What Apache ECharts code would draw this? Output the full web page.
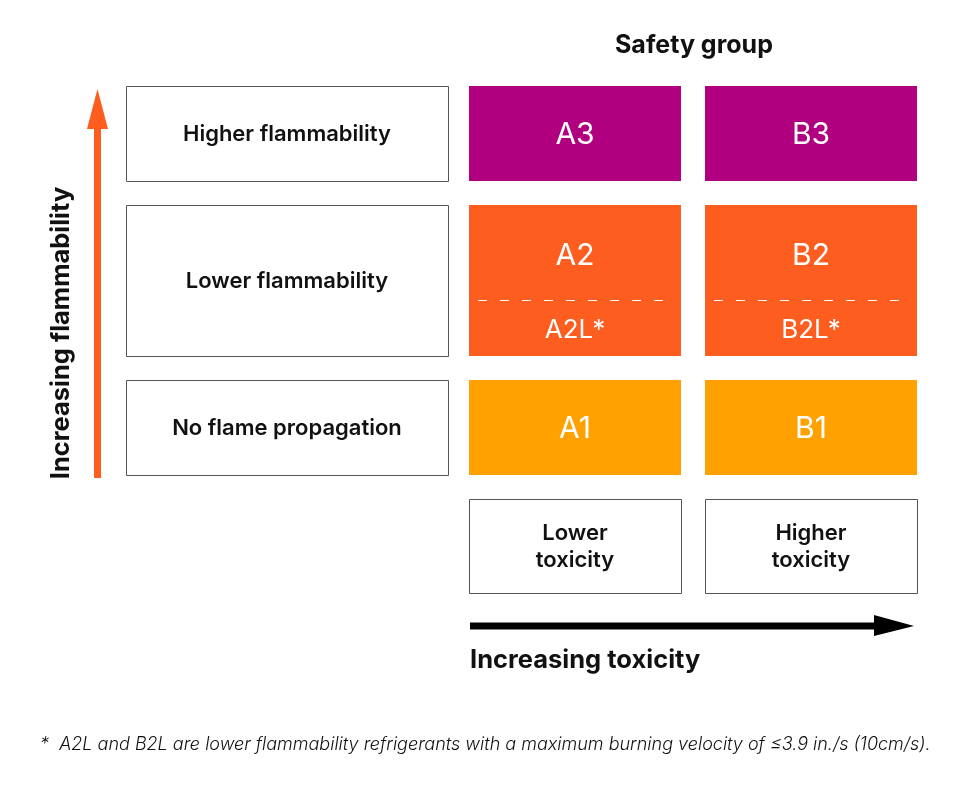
<!DOCTYPE html>
<html>
<head>
<meta charset="utf-8">
<script src="https://cdn.jsdelivr.net/npm/echarts@6/dist/echarts.min.js"></script>
<style>
  html, body { margin: 0; padding: 0; background: #fff; }
  #chart { width: 956px; height: 787px; }
</style>
</head>
<body>
<div id="chart"></div>
<script>
// data
const flammabilityClasses = ['Higher flammability', 'Lower flammability', 'No flame propagation'];
const toxicityClasses = ['Lower\ntoxicity', 'Higher\ntoxicity'];
const safetyGroups = [['A3', 'B3'], ['A2', 'B2'], ['A1', 'B1']];
const subGroups = [null, ['A2L*', 'B2L*'], null];
const groupColors = ['#B0007F', '#FD5D1F', '#FFA100'];
const titleText = 'Safety group';
const yAxisTitle = 'Increasing flammability';
const xAxisTitle = 'Increasing toxicity';
const footnote = '*  A2L and B2L are lower flammability refrigerants with a maximum burning velocity of \u22643.9 in./s (10cm/s).';

const FONT = 'Inter, "Noto Sans", sans-serif';

// layout of the table (axis units)
const colWidths = [322, 212, 212];
const colGaps = [21, 24];
const rowHeights = [95, 151, 95, 94];
const rowGap = 24;
const colStart = [0];
for (let i = 1; i < colWidths.length; i++) colStart.push(colStart[i - 1] + colWidths[i - 1] + colGaps[i - 1]);
const rowStart = [0];
for (let i = 1; i < rowHeights.length; i++) rowStart.push(rowStart[i - 1] + rowHeights[i - 1] + rowGap);
const totalW = colStart[colStart.length - 1] + colWidths[colWidths.length - 1];
const totalH = rowStart[rowStart.length - 1] + rowHeights[rowHeights.length - 1];

// cells: [col, row, kind]
const cells = [];
flammabilityClasses.forEach((name, r) => cells.push({ col: 0, row: r, kind: 'label', text: name }));
safetyGroups.forEach((pair, r) => pair.forEach((g, c) => cells.push({
    col: c + 1, row: r, kind: 'group', text: g, sub: subGroups[r] ? subGroups[r][c] : null, color: groupColors[r]
})));
toxicityClasses.forEach((name, c) => cells.push({ col: c + 1, row: 3, kind: 'label', text: name, small: true }));

function renderCell(params, api) {
    const cell = cells[params.dataIndex];
    const x0 = colStart[cell.col], x1 = x0 + colWidths[cell.col];
    const y0 = rowStart[cell.row], y1 = y0 + rowHeights[cell.row];
    const p0 = api.coord([x0, y0]);
    const p1 = api.coord([x1, y1]);
    const w = p1[0] - p0[0], h = p1[1] - p0[1];
    const cx = p0[0] + w / 2;
    const children = [];
    if (cell.kind === 'label') {
        children.push({
            type: 'rect',
            shape: { x: Math.round(p0[0]) + 0.5, y: Math.round(p0[1]) + 0.5, width: Math.round(w), height: Math.round(h) },
            style: { fill: '#fff', stroke: '#555', lineWidth: 1 }
        });
        children.push({
            type: 'text',
            style: {
                x: cx, y: p0[1] + h / 2 + 1, text: cell.text, align: 'center', verticalAlign: 'middle',
                fill: '#111', font: '600 22px ' + FONT, lineHeight: 27
            }
        });
    } else {
        children.push({
            type: 'rect',
            shape: { x: p0[0], y: p0[1], width: w, height: h },
            style: { fill: cell.color }
        });
        if (cell.sub) {
            const split = p0[1] + h * 0.63;
            children.push({
                type: 'line',
                shape: { x1: p0[0] + 9, y1: Math.round(split) + 0.5, x2: p1[0] - 13, y2: Math.round(split) + 0.5 },
                style: { stroke: '#fff', lineWidth: 1, lineDash: [9, 13] }
            });
            children.push({
                type: 'text',
                style: { x: cx, y: (p0[1] + split) / 2 + 3, text: cell.text, align: 'center', verticalAlign: 'middle', fill: '#fff', font: '400 30px ' + FONT }
            });
            children.push({
                type: 'text',
                style: { x: cx, y: (split + p1[1]) / 2 + 2, text: cell.sub, align: 'center', verticalAlign: 'middle', fill: '#fff', font: '400 26px ' + FONT }
            });
        } else {
            children.push({
                type: 'text',
                style: { x: cx, y: p0[1] + h / 2 + 1, text: cell.text, align: 'center', verticalAlign: 'middle', fill: '#fff', font: '400 30px ' + FONT }
            });
        }
    }
    return { type: 'group', children: children };
}

const chart = echarts.init(document.getElementById('chart'));
chart.setOption({
    backgroundColor: '#fff',
    animation: false,
    title: {
        text: titleText,
        left: 610,
        top: 28,
        textStyle: { fontFamily: FONT, fontSize: 25, fontWeight: 700, color: '#111' }
    },
    grid: { left: 126, top: 86, width: totalW, height: totalH },
    xAxis: { type: 'value', min: 0, max: totalW, show: false },
    yAxis: { type: 'value', min: 0, max: totalH, inverse: true, show: false },
    series: [{
        type: 'custom',
        renderItem: renderCell,
        data: cells.map(c => [c.col, c.row]),
        silent: true
    }],
    graphic: [
        // flammability arrow
        { type: 'line', shape: { x1: 97.5, y1: 478, x2: 97.5, y2: 125 }, style: { stroke: '#FD5D1F', lineWidth: 7 } },
        { type: 'polygon', shape: { points: [[87, 129], [108, 129], [97.5, 89]] }, style: { fill: '#FD5D1F' } },
        {
            type: 'text', x: 61, y: 333, rotation: Math.PI / 2,
            style: { text: yAxisTitle, align: 'center', verticalAlign: 'middle', fill: '#111', font: '700 25.5px ' + FONT }
        },
        // toxicity arrow
        { type: 'line', shape: { x1: 470, y1: 626, x2: 878, y2: 626 }, style: { stroke: '#000', lineWidth: 7 } },
        { type: 'polygon', shape: { points: [[874, 615], [874, 636], [914, 626]] }, style: { fill: '#000' } },
        {
            type: 'text', x: 470, y: 660,
            style: { text: xAxisTitle, align: 'left', verticalAlign: 'middle', fill: '#111', font: '700 25.5px ' + FONT }
        },
        {
            type: 'text', x: 40, y: 745,
            style: { text: footnote, align: 'left', verticalAlign: 'middle', fill: '#111', font: 'italic 300 18px ' + FONT }
        }
    ]
});
</script>
</body>
</html>
